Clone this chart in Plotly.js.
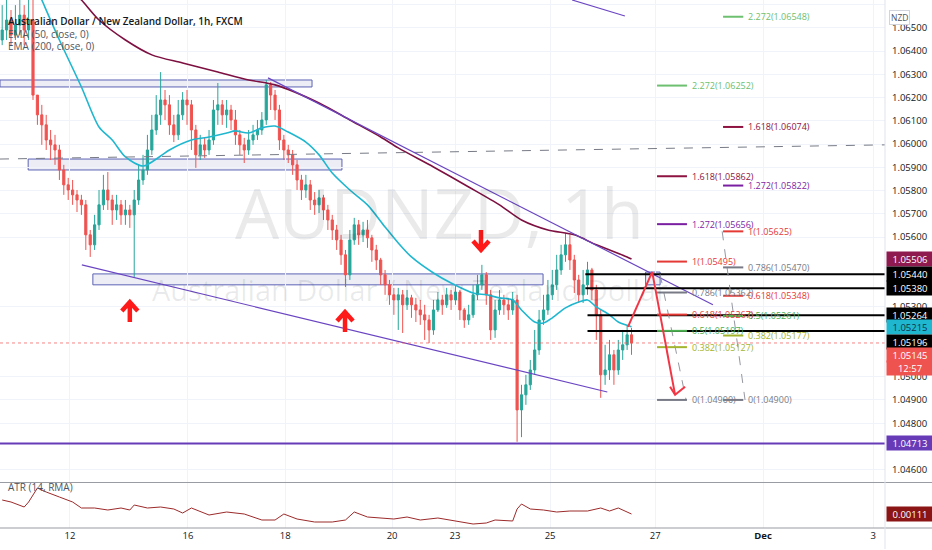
<!DOCTYPE html>
<html>
<head>
<meta charset="utf-8">
<script src="https://cdn.plot.ly/plotly-3.0.1.min.js"></script>
<style>
  html, body { margin: 0; padding: 0; background: #fff; }
  #chart { width: 932px; height: 550px; }
</style>
</head>
<body>
<div id="chart"></div>
<script>
// AUDNZD, FXCM, one candle per 2 hours (Nov 10 .. Nov 26)
const closes = [
  1.06491, 1.06534, 1.06469, 1.06512, 1.06555, 1.06491, 1.06534, 1.06211, 1.06126, 1.06083,
  1.06018, 1.05997, 1.05975, 1.05889, 1.05825, 1.05803, 1.05782, 1.05760, 1.05739, 1.05610,
  1.05567, 1.05653, 1.05739, 1.05803, 1.05760, 1.05717, 1.05739, 1.05696, 1.05717, 1.05696,
  1.05760, 1.05846, 1.05889, 1.05975, 1.06061, 1.06126, 1.06190, 1.06169, 1.06083, 1.06040,
  1.06126, 1.06190, 1.06169, 1.06061, 1.05954, 1.05997, 1.05975, 1.06018, 1.06147, 1.06169,
  1.06126, 1.06147, 1.06104, 1.06040, 1.05997, 1.05975, 1.06018, 1.06040, 1.06061, 1.06104,
  1.06255, 1.06211, 1.06147, 1.06018, 1.05975, 1.05954, 1.05911, 1.05846, 1.05803, 1.05825,
  1.05760, 1.05739, 1.05769, 1.05717, 1.05674, 1.05631, 1.05588, 1.05524, 1.05438, 1.05588,
  1.05653, 1.05610, 1.05631, 1.05597, 1.05545, 1.05502, 1.05438, 1.05395, 1.05352, 1.05330,
  1.05352, 1.05309, 1.05339, 1.05309, 1.05287, 1.05266, 1.05244, 1.05201, 1.05287, 1.05330,
  1.05309, 1.05352, 1.05330, 1.05364, 1.05287, 1.05244, 1.05266, 1.05352, 1.05395, 1.05438,
  1.05352, 1.05201, 1.05287, 1.05330, 1.05309, 1.05287, 1.05330, 1.04857, 1.04922, 1.04965,
  1.05029, 1.05115, 1.05244, 1.05287, 1.05352, 1.05395, 1.05459, 1.05524, 1.05567, 1.05502,
  1.05416, 1.05352, 1.05395, 1.05459, 1.05373, 1.05266, 1.05008, 1.05029, 1.05094, 1.05029,
  1.05115, 1.05137, 1.05180, 1.05145
];
const highs = [
  1.06598, 1.06620, 1.06577, 1.06598, 1.06642, 1.06598, 1.06620, 1.06620, 1.06211, 1.06169,
  1.06126, 1.06061, 1.06040, 1.05997, 1.05911, 1.05855, 1.05846, 1.05803, 1.05782, 1.05760,
  1.05631, 1.05696, 1.05803, 1.05868, 1.05880, 1.05782, 1.05782, 1.05760, 1.05760, 1.05739,
  1.05803, 1.05911, 1.05954, 1.06040, 1.06126, 1.06211, 1.06310, 1.06233, 1.06211, 1.06126,
  1.06190, 1.06224, 1.06233, 1.06190, 1.06083, 1.06040, 1.06027, 1.06061, 1.06190, 1.06263,
  1.06190, 1.06190, 1.06169, 1.06147, 1.06061, 1.06027, 1.06061, 1.06083, 1.06104, 1.06138,
  1.06276, 1.06267, 1.06233, 1.06169, 1.06040, 1.05997, 1.05975, 1.05932, 1.05868, 1.05868,
  1.05846, 1.05794, 1.05803, 1.05782, 1.05739, 1.05696, 1.05653, 1.05610, 1.05545, 1.05631,
  1.05683, 1.05674, 1.05666, 1.05674, 1.05610, 1.05567, 1.05511, 1.05459, 1.05416, 1.05382,
  1.05382, 1.05373, 1.05373, 1.05352, 1.05339, 1.05330, 1.05309, 1.05266, 1.05330, 1.05364,
  1.05352, 1.05382, 1.05373, 1.05395, 1.05373, 1.05296, 1.05309, 1.05395, 1.05438, 1.05481,
  1.05450, 1.05373, 1.05330, 1.05373, 1.05352, 1.05339, 1.05364, 1.05352, 1.04965, 1.05008,
  1.05072, 1.05201, 1.05287, 1.05352, 1.05416, 1.05459, 1.05524, 1.05567, 1.05618, 1.05610,
  1.05524, 1.05438, 1.05459, 1.05494, 1.05468, 1.05395, 1.05287, 1.05137, 1.05158, 1.05115,
  1.05158, 1.05201, 1.05223, 1.05210
];
const lows = [
  1.06426, 1.06448, 1.06426, 1.06448, 1.06469, 1.06426, 1.06448, 1.06190, 1.06083, 1.05997,
  1.05975, 1.05932, 1.05911, 1.05846, 1.05782, 1.05760, 1.05739, 1.05708, 1.05696, 1.05545,
  1.05515, 1.05545, 1.05631, 1.05717, 1.05717, 1.05653, 1.05674, 1.05653, 1.05653, 1.05640,
  1.05429, 1.05739, 1.05825, 1.05868, 1.05954, 1.06040, 1.06083, 1.06104, 1.06040, 1.06009,
  1.06018, 1.06104, 1.06083, 1.05975, 1.05898, 1.05932, 1.05941, 1.05954, 1.05997, 1.06083,
  1.06083, 1.06070, 1.06061, 1.05997, 1.05954, 1.05919, 1.05954, 1.05997, 1.06018, 1.06040,
  1.06083, 1.06147, 1.06104, 1.05975, 1.05932, 1.05919, 1.05868, 1.05803, 1.05760, 1.05769,
  1.05717, 1.05696, 1.05704, 1.05674, 1.05631, 1.05588, 1.05545, 1.05481, 1.05386, 1.05416,
  1.05567, 1.05567, 1.05579, 1.05554, 1.05494, 1.05459, 1.05395, 1.05352, 1.05309, 1.05266,
  1.05201, 1.05188, 1.05287, 1.05253, 1.05235, 1.05223, 1.05158, 1.05145, 1.05180, 1.05278,
  1.05266, 1.05296, 1.05287, 1.05309, 1.05244, 1.05210, 1.05223, 1.05253, 1.05330, 1.05373,
  1.05309, 1.05158, 1.05167, 1.05266, 1.05266, 1.05244, 1.05266, 1.04720, 1.04740, 1.04879,
  1.04943, 1.05008, 1.05094, 1.05223, 1.05266, 1.05330, 1.05373, 1.05438, 1.05494, 1.05459,
  1.05360, 1.05317, 1.05317, 1.05352, 1.05330, 1.05158, 1.04909, 1.04965, 1.04986, 1.04965,
  1.05008, 1.05072, 1.05115, 1.05094
];
const firstOpen = 1.06448;

// indicator lines, sampled where they could be read
const ema50Bars = [8, 9, 13, 18, 22, 25, 28, 32, 36, 38, 43, 47, 51, 53, 56, 59, 62, 65, 69, 72,
  75, 79, 83, 87, 90, 93, 98, 102, 107, 110, 113, 116, 118, 121, 123, 125, 128, 131, 133, 135,
  138, 140, 143];
const ema50 = [1.06663, 1.06620, 1.06448, 1.06246, 1.06074, 1.06018, 1.05945, 1.05906, 1.05949, 1.05975,
  1.06018, 1.06031, 1.06048, 1.06057, 1.06048, 1.06070, 1.06078, 1.06052, 1.06009, 1.05954,
  1.05876, 1.05803, 1.05739, 1.05644, 1.05575, 1.05515, 1.05446, 1.05403, 1.05360, 1.05352,
  1.05339, 1.05330, 1.05287, 1.05235, 1.05231, 1.05253, 1.05296, 1.05321, 1.05330, 1.05300,
  1.05266, 1.05235, 1.05215];
const ema200Bars = [16, 18, 22, 28, 34, 41, 49, 56, 62, 72, 79, 86, 90, 98, 106, 113, 118, 124, 130, 135, 142, 143];
const ema200 = [1.06654, 1.06620, 1.06534, 1.06448, 1.06384, 1.06349, 1.06310, 1.06276, 1.06255, 1.06177,
  1.06104, 1.06031, 1.05984, 1.05902, 1.05816, 1.05739, 1.05674, 1.05631, 1.05610, 1.05567,
  1.05515, 1.05506];
const atrBars = [0, 2, 5, 6, 8, 10, 13, 16, 18, 21, 24, 27, 29, 30, 33, 36, 39, 41, 43, 47,
  51, 55, 59, 62, 64, 67, 71, 75, 78, 80, 83, 89, 92, 95, 99, 103, 107, 110, 112, 116,
  117, 118, 120, 123, 126, 129, 133, 136, 138, 140, 143];
const atr = [0.00167, 0.00159, 0.00139, 0.00159, 0.00215, 0.00199, 0.00179, 0.00159, 0.00135, 0.00135,
  0.00127, 0.00135, 0.00127, 0.00147, 0.00135, 0.00139, 0.00131, 0.00115, 0.00135, 0.00107,
  0.00119, 0.00111, 0.00087, 0.00087, 0.00111, 0.00091, 0.00079, 0.00079, 0.00087, 0.00119,
  0.00099, 0.00091, 0.00099, 0.00087, 0.00095, 0.00083, 0.00071, 0.00075, 0.00087, 0.00083,
  0.00131, 0.00151, 0.00131, 0.00127, 0.00119, 0.00123, 0.00123, 0.00135, 0.00123, 0.00135,
  0.00111];

// time axis
const dayTicks = [15.4, 42.2, 64.3, 88.6, 102.9, 124.5, 148.4, 172.9, 197.9];
const dayLabels = ['12', '16', '18', '20', '23', '25', '27', '<b>Dec</b>', '3'];

// price axis labels that are not hidden behind a price tag
const priceTicks = [1.046, 1.048, 1.049, 1.050, 1.053, 1.056, 1.057, 1.058, 1.059,
  1.060, 1.061, 1.062, 1.063, 1.064, 1.065, 1.066];

// the two fib extensions drawn on the right
const fibLevels = ['0', '0.382', '0.5', '0.618', '0.786', '1', '1.272', '1.618', '2.272'];
const fibLeft = [1.04900, 1.05127, 1.05197, 1.05267, 1.05362, 1.05495, 1.05656, 1.05862, 1.06252];
const fibRight = [1.04900, 1.05177, 1.05261, 1.05348, 1.05470, 1.05625, 1.05822, 1.06074, 1.06548];
const fibColors = ['#787b86', '#a3b52e', '#4caf50', '#e53935', '#787b86', '#e53935', '#7b1fa2', '#8e1340', '#6cc070'];

// horizontal levels
const blackLevels = [1.05440, 1.05380, 1.05264, 1.05196];
const lastPrice = 1.05145;
const supportLevel = 1.04713;

const FONT = "'Open Sans', 'Noto Sans', sans-serif";
const opens = closes.map((c, i) => (i ? closes[i - 1] : firstOpen));
const bars = closes.map((c, i) => i);

const traces = [
    {
        type: 'candlestick',
        x: bars, open: opens, high: highs, low: lows, close: closes,
        xaxis: 'x', yaxis: 'y',
        increasing: { line: { color: '#26a69a', width: 1 }, fillcolor: '#26a69a' },
        decreasing: { line: { color: '#ef5350', width: 1 }, fillcolor: '#ef5350' },
        whiskerwidth: 0,
        hoverinfo: 'skip',
    },
    {
        type: 'scatter', mode: 'lines', x: ema50Bars, y: ema50, xaxis: 'x', yaxis: 'y',
        line: { color: '#1fb7cf', width: 1.6, shape: 'spline', smoothing: 0.8 }, hoverinfo: 'skip',
    },
    {
        type: 'scatter', mode: 'lines', x: ema200Bars, y: ema200, xaxis: 'x', yaxis: 'y',
        line: { color: '#7d1040', width: 1.6, shape: 'spline', smoothing: 0.8 }, hoverinfo: 'skip',
    },
    {
        type: 'scatter', mode: 'lines', x: atrBars, y: atr, xaxis: 'x', yaxis: 'y2',
        line: { color: '#9c2a2a', width: 1 }, hoverinfo: 'skip',
    },
];

const shapes = [];
const annotations = [];

function seg(x0, y0, x1, y1, color, width, dash, layer) {
    shapes.push({
        type: 'line', xref: 'x', yref: 'y', x0: x0, y0: y0, x1: x1, y1: y1,
        line: { color: color, width: width, dash: dash || 'solid' }, layer: layer || 'above',
    });
}
function box(x0, y0, x1, y1) {
    shapes.push({
        type: 'rect', xref: 'x', yref: 'y', x0: x0, y0: y0, x1: x1, y1: y1,
        fillcolor: 'rgba(178,184,214,0.25)', line: { color: '#5c62b5', width: 1 }, layer: 'below',
    });
}
function arrowIcon(bar, price, up) {
    const s = up ? 1 : -1;
    shapes.push({
        type: 'path', xref: 'x', yref: 'y', xsizemode: 'pixel', ysizemode: 'pixel',
        xanchor: bar, yanchor: price,
        path: `M0,${-10 * s} L0,${9 * s} M-8,${1 * s} L0,${10 * s} L8,${1 * s}`,
        line: { color: '#ff1a1a', width: 4.5 },
    });
}
function tag(y, text, bg, fg, yref, shift) {
    annotations.push({
        xref: 'paper', x: 1, xanchor: 'left', xshift: 1, yref: yref || 'y', y: y, yshift: shift || 0,
        text: text, showarrow: false, bgcolor: bg, width: 44, height: 12, borderpad: 1,
        font: { family: FONT, size: 9.5, color: fg },
    });
}

// zones
box(-0.5, 1.06246, 70.4, 1.06276);
box(5.9, 1.05889, 77.2, 1.05936);
box(20.6, 1.05395, 122.9, 1.05442);
box(146.2, 1.05395, 149.5, 1.05450);

// dashed level and trendlines
seg(-0.5, 1.05936, 200.6, 1.05997, '#787b86', 1, 'dash');
seg(18.1, 1.05481, 137.5, 1.04934, '#6a45c2', 1.2);
seg(60.4, 1.06285, 161.5, 1.05309, '#6a45c2', 1.2);
seg(129.5, 1.06620, 141.5, 1.06551, '#6a45c2', 1.2);
seg(-0.5, supportLevel, 200.6, supportLevel, '#673ab7', 2);
seg(-0.5, lastPrice, 200.6, lastPrice, 'rgba(239,83,80,0.7)', 1, 'dot');
blackLevels.forEach((lvl, i) => seg(i < 2 ? 132.5 : 133, lvl, 200.6, lvl, '#000000', 2));

// fib extensions
seg(149.5, 1.05440, 155.4, fibLeft[0], '#9598a1', 1, 'dash');
seg(163.6, fibRight[5], 168.8, fibRight[0], '#9598a1', 1, 'dash');
fibLevels.forEach((lvl, i) => {
    seg(148.8, fibLeft[i], 155.6, fibLeft[i], fibColors[i], 2);
    seg(163.8, fibRight[i], 168.4, fibRight[i], fibColors[i], 2);
    [[156.4, fibLeft[i]], [169.1, fibRight[i]]].forEach(([bx, p]) => {
        annotations.push({
            xref: 'x', yref: 'y', x: bx, y: p, xanchor: 'left', showarrow: false,
            text: `${lvl}(${p.toFixed(5)})`, font: { family: FONT, size: 9, color: fibColors[i] },
        });
    });
});

// projected move
seg(142.2, 1.05214, 147.7, 1.05451, '#f23645', 2);
seg(147.7, 1.05451, 152.9, 1.04922, '#f23645', 2);
shapes.push({
    type: 'path', xref: 'x', yref: 'y', xsizemode: 'pixel', ysizemode: 'pixel',
    xanchor: 152.9, yanchor: 1.04922, path: 'M-5,8 L0,0 L10,8', line: { color: '#f23645', width: 2 },
});

// red arrows
arrowIcon(29, 1.05278, true);
arrowIcon(77.9, 1.05235, true);
arrowIcon(108.8, 1.05588, false);

// pane separators and axis border
shapes.push({ type: 'line', xref: 'paper', yref: 'paper', x0: 0, x1: 1.0532, y0: 0.0862, y1: 0.0862, line: { color: '#9a9ca3', width: 1.2 } });
shapes.push({ type: 'line', xref: 'paper', yref: 'paper', x0: 0, x1: 1.0532, y0: 0, y1: 0, line: { color: '#9a9ca3', width: 1.2 } });
shapes.push({ type: 'line', xref: 'paper', yref: 'paper', x0: 1, x1: 1, y0: -0.04, y1: 1, line: { color: '#e0e3eb', width: 1 } });

// watermark
annotations.push({
    xref: 'paper', yref: 'paper', x: 0.497, y: 0.5985, showarrow: false, text: 'AUDNZD, 1h',
    font: { family: FONT, size: 70, color: 'rgba(19,23,34,0.09)' },
});
annotations.push({
    xref: 'paper', yref: 'paper', x: 0.463, y: 0.4508, showarrow: false, text: 'Australian Dollar / New Zealand Dollar',
    font: { family: FONT, size: 29, color: 'rgba(19,23,34,0.09)' },
});

// legends
[['Australian Dollar / New Zealand Dollar, 1h, FXCM', 0.977, '#131722', 600],
 ['EMA (50, close, 0)', 0.9527, '#50535e', 400],
 ['EMA (200, close, 0)', 0.930, '#50535e', 400],
 ['ATR (14, RMA)', 0.0606, '#50535e', 400]].forEach(([t, y, c, w]) => {
    annotations.push({
        xref: 'paper', yref: 'paper', x: 0.007, y: y, xanchor: 'left', showarrow: false, text: t,
        font: { family: FONT, size: 10, color: c, weight: w },
    });
});

// price tags on the right axis
tag(ema200[ema200.length - 1], '1.05506', '#8e1a50', '#ffffff');
tag(blackLevels[0], '1.05440', '#000000', '#ffffff');
tag(blackLevels[1], '1.05380', '#000000', '#ffffff');
tag(blackLevels[2], '1.05264', '#000000', '#ffffff');
tag(ema50[ema50.length - 1], '1.05215', '#1fb7cf', '#10324a');
tag(blackLevels[3], '1.05196', '#000000', '#ffffff', 'y', -11);
tag(lastPrice, '1.05145', '#ef5350', '#ffffff', 'y', -12);
tag(lastPrice, '12:57', '#ef5350', '#ffffff', 'y', -25);
tag(supportLevel, '1.04713', '#673ab7', '#ffffff');
tag(atr[atr.length - 1], '0.00111', '#8b1414', '#ffffff', 'y2');
annotations.push({
    xref: 'paper', yref: 'paper', x: 1.028, y: 0.981, showarrow: false, text: 'NZD',
    bgcolor: '#ffffff', bordercolor: '#d1d4dc', borderwidth: 1, borderpad: 1,
    font: { family: FONT, size: 8.5, color: '#50535e' },
});

const layout = {
    width: 932, height: 550,
    margin: { l: 0, r: 47, t: 0, b: 22 },
    paper_bgcolor: '#ffffff', plot_bgcolor: '#ffffff',
    showlegend: false,
    font: { family: FONT, size: 9.5, color: '#131722' },
    xaxis: {
        range: [-0.5, 200.6], anchor: 'y2', tickvals: dayTicks, ticktext: dayLabels,
        showgrid: true, gridcolor: '#f0f3fa', zeroline: false, showline: false, ticks: '',
        rangeslider: { visible: false }, fixedrange: true,
        tickfont: { family: FONT, size: 9.5, color: '#131722' },
    },
    yaxis: {
        domain: [0.0871, 1], range: [1.04547, 1.06620], side: 'right', anchor: 'x',
        tickvals: priceTicks, tickformat: '.5f', showgrid: true, gridcolor: '#f0f3fa',
        zeroline: false, showline: false, ticks: '', ticklabelstandoff: 6, fixedrange: true,
        tickfont: { family: FONT, size: 9.5, color: '#131722' },
    },
    yaxis2: {
        domain: [0, 0.0852], range: [0.00055, 0.00235], side: 'right', anchor: 'x',
        showticklabels: false, showgrid: false, zeroline: false, fixedrange: true,
    },
    shapes: shapes,
    annotations: annotations,
};

Plotly.newPlot('chart', traces, layout, { displayModeBar: false, staticPlot: true });
</script>
</body>
</html>
